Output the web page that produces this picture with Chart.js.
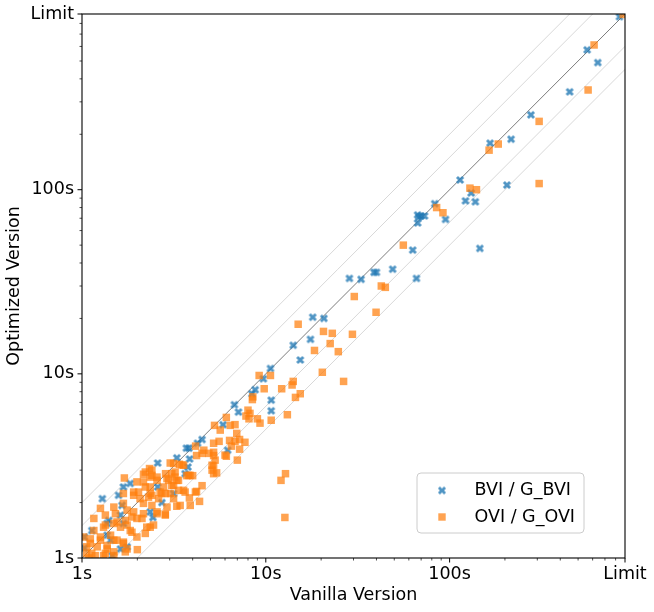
<!DOCTYPE html>
<html>
<head>
    <title>Vanilla vs Optimized Version</title>
    <meta charset="UTF-8">
    <script src="https://cdn.jsdelivr.net/npm/chart.js"></script>
    <style>
        body { margin: 0; background: #ffffff; }
        canvas { display: block; }
    </style>
</head>
<body>
    <canvas id="scatter_chart" width="654" height="612"></canvas>
<script>
    // log axes, seconds; "Limit" is the timeout (900s)
    var tickValues = [1, 10, 100, 900];
    var tickLabels = ['1s', '10s', '100s', 'Limit'];
    var minorTicks = [2, 3, 4, 5, 6, 7, 8, 9, 20, 30, 40, 50, 60, 70, 80, 90, 200, 300, 400, 500, 600, 700, 800];
    var ratioLines = [1, 1.5, 2, 1 / 1.5, 1 / 2]; // y = ratio * x
    var legendLabels = ['BVI / G_BVI', 'OVI / G_OVI'];

    // BVI / G_BVI : vanilla time (x) vs optimized time (y)
    var bviX = [840, 560, 640, 450, 277, 216, 166, 114, 205, 131,
                122, 138, 83, 95, 67, 70, 73, 68, 67, 63,
                146, 28.5, 33, 38.8, 40, 49, 66, 18, 20.7, 17.5,
                14.1, 15.4, 10.6, 9.7, 8.75, 8.4, 10.7, 6.75, 7.1, 10.7,
                5.85, 4.5, 3.7, 3.82, 3.28, 3.85, 3.77, 2.58, 6.2, 2.58,
                4.25, 1.83, 1.68, 1.58, 1.29, 2.72, 2.35, 2.43, 1.4, 1.62,
                1.13, 1.03, 1.37, 1.62, 1.76, 1.43, 1.37, 1.65, 1.68, 1.46,
                3.64, 3.15, 1.03];
    var bviY = [870, 575, 490, 340, 255, 188, 179, 113, 106, 96,
                87, 86, 84, 69, 73, 72, 72, 71, 66, 47,
                48, 33, 32.6, 35.6, 35.6, 37, 33, 20.3, 20, 15.4,
                14.3, 11.9, 10.7, 9.4, 8.2, 7.8, 7.2, 6.8, 6.2, 6.3,
                5.3, 4.4, 3.95, 3.95, 3.5, 3.45, 3.12, 3.28, 3.85, 2.43,
                4.2, 2.54, 2.43, 2.19, 2.1, 2.0, 1.78, 1.66, 1.6, 1.71,
                1.41, 1.3, 1.33, 1.12, 1.15, 1.25, 1.54, 1.93, 1.54, 1.03,
                2.87, 2.24, 1.13];

    // OVI / G_OVI
    var oviX = [880, 611, 567, 307, 184, 164, 129, 140, 307, 85,
                92, 56, 30.3, 42.5, 44.7, 39.8, 15, 20.6, 23, 29.6,
                22.4, 18.4, 24.8, 20.3, 26.5, 9.2, 10.6, 14.1, 13.9, 9.8,
                12.2, 15.4, 14.5, 8.5, 8.45, 13.1, 8.0, 8.2, 7.8, 8.1,
                9.0, 9.3, 6.1, 6.8, 6.4, 5.26, 5.65, 6.95, 10.7, 6.35,
                6.8, 7.2, 7.7, 5.57, 5.2, 6.5, 7.2, 6.1, 7.0, 4.15,
                4.6, 4.2, 4.5, 4.9, 5.2, 5.3, 5.2, 5.4, 5.1, 4.0,
                3.72, 4.5, 4.2, 3.64, 3.84, 12.1, 12.8, 12.7, 3.5, 3.08,
                3.2, 2.96, 3.35, 2.78, 3.15, 2.66, 3.02, 3.35, 3.15, 2.56,
                2.33, 3.02, 3.39, 2.16, 2.4, 2.85, 3.21, 3.8, 4.36, 1.7,
                1.99, 2.21, 1.91, 2.4, 2.07, 2.72, 2.9, 3.28, 2.56, 2.84,
                1.68, 1.49, 1.26, 1.91, 2.12, 1.16, 1.34, 1.55, 1.76, 2.35,
                1.87, 2.21, 1.99, 1.11, 1.26, 1.49, 1.68, 1.06, 1.21, 1.37,
                1.13, 1.31, 1.49, 2.0, 1.72, 1.09, 1.34, 1.52, 1.76, 1.87,
                1.72, 1.99, 2.16, 2.4, 2.56, 2.84, 2.25, 2.45, 1.83, 1.62,
                1.49, 1.31, 1.16, 1.26, 1.43, 1.55, 1.68, 1.11, 1.37, 1.06,
                1.18, 1.34, 1.49, 1.76, 1.02, 2.16, 2.61, 1.91, 1.68, 2.03,
                2.35, 2.84, 5.2, 6.0, 3.15, 3.57, 5.1, 5.2, 3.87, 2.21,
                2.4, 2.35, 2.16, 2.56, 2.9, 3.28, 3.08, 2.35, 3.57, 4.14,
                2.3, 3.42, 3.88];
    var oviY = [895, 611, 348, 235, 177, 164, 102, 100, 108, 80,
                75, 50, 26.3, 30, 29.5, 21.6, 18.6, 17, 16.6, 16.4,
                14.6, 13.4, 13.2, 10.2, 9.1, 9.8, 9.8, 9.1, 8.7, 8.3,
                8.3, 7.8, 7.45, 7.5, 7.25, 6.0, 6.35, 6.1, 5.9, 5.7,
                5.7, 5.4, 5.8, 5.3, 5.25, 5.25, 4.95, 4.75, 5.6, 4.35,
                4.3, 4.4, 4.25, 4.3, 4.2, 4.05, 3.9, 3.57, 3.4, 4.05,
                3.85, 3.6, 3.7, 3.7, 3.75, 3.4, 3.16, 2.9, 3.0, 2.8,
                2.8, 2.47, 2.3, 2.28, 2.12, 2.64, 2.87, 1.66, 3.2, 2.87,
                2.75, 2.64, 2.64, 2.43, 2.48, 2.28, 2.24, 2.33, 2.1, 2.75,
                3.06, 3.28, 3.23, 2.85, 2.81, 2.87, 2.93, 2.81, 2.03, 2.72,
                2.59, 2.43, 2.28, 2.19, 2.1, 2.24, 1.89, 1.91, 1.74, 1.73,
                1.98, 1.89, 1.86, 1.78, 1.64, 1.64, 1.51, 1.57, 1.51, 1.47,
                1.38, 1.36, 1.3, 1.27, 1.25, 1.25, 1.22, 1.15, 1.15, 1.12,
                1.06, 1.03, 1.03, 1.11, 1.08, 1.0, 1.71, 1.74, 1.82, 1.67,
                1.6, 1.64, 1.74, 1.93, 1.78, 1.71, 1.47, 1.51, 1.41, 1.47,
                1.54, 1.47, 1.41, 1.3, 1.33, 1.25, 1.2, 1.2, 1.17, 1.06,
                1.03, 1.06, 1.08, 1.12, 1.3, 1.98, 2.1, 2.19, 2.24, 2.28,
                2.24, 2.24, 3.6, 3.62, 3.26, 3.19, 3.19, 2.87, 2.81, 2.93,
                3.0, 2.75, 2.59, 2.64, 2.7, 2.64, 2.48, 2.43, 2.33, 2.28,
                2.14, 1.93, 1.93];

    var blue = 'rgba(31, 119, 180, 0.78)';
    var orange = 'rgba(255, 127, 14, 0.72)';

    // filled "X" marker like matplotlib's 'X'
    function makeXMarker(size, color) {
        var c = document.createElement('canvas');
        c.width = 10;
        c.height = 10;
        var g = c.getContext('2d');
        var u = size / 6;
        var pts = [[-1, -3], [1, -3], [1, -1], [3, -1], [3, 1], [1, 1], [1, 3], [-1, 3], [-1, 1], [-3, 1], [-3, -1], [-1, -1]];
        g.translate(5, 5);
        g.rotate(Math.PI / 4);
        g.fillStyle = color;
        g.beginPath();
        pts.forEach(function (p, i) {
            if (i === 0) g.moveTo(p[0] * u, p[1] * u);
            else g.lineTo(p[0] * u, p[1] * u);
        });
        g.closePath();
        g.fill();
        return c;
    }
    var xMarker = makeXMarker(8.6, blue);

    function toPoints(xs, ys) {
        return xs.map(function (x, i) { return { x: x, y: ys[i] }; });
    }

    var datasets = [{
        label: legendLabels[1],
        data: toPoints(oviX, oviY),
        pointStyle: 'rect',
        pointRadius: 5.3,
        pointBackgroundColor: orange,
        pointBorderWidth: 0,
        order: 0
    }, {
        label: legendLabels[0],
        data: toPoints(bviX, bviY),
        pointStyle: xMarker,
        pointRadius: 5,
        pointBorderWidth: 0,
        order: 1
    }];

    // reference lines y = r * x
    ratioLines.forEach(function (r) {
        datasets.push({
            label: 'ratio ' + r,
            data: [{ x: 0.5, y: 0.5 * r }, { x: 2000, y: 2000 * r }],
            showLine: true,
            pointRadius: 0,
            borderColor: r === 1 ? 'rgba(110, 110, 110, 0.9)' : '#d8d8d8',
            borderWidth: 1,
            order: 5
        });
    });

    // ticks, frame and legend drawn by hand (matplotlib look)
    var framePlugin = {
        id: 'frame',
        afterDraw: function (chart) {
            var ctx = chart.ctx;
            var a = chart.chartArea;
            var xs = chart.scales.x, ys = chart.scales.y;
            ctx.save();
            ctx.strokeStyle = '#000000';
            ctx.lineWidth = 1.1;
            ctx.strokeRect(a.left, a.top, a.right - a.left, a.bottom - a.top);

            function tickMarks(values, len) {
                values.forEach(function (v) {
                    var px = xs.getPixelForValue(v);
                    var py = ys.getPixelForValue(v);
                    ctx.beginPath();
                    ctx.moveTo(px, a.bottom);
                    ctx.lineTo(px, a.bottom + len);
                    ctx.moveTo(a.left, py);
                    ctx.lineTo(a.left - len, py);
                    ctx.stroke();
                });
            }
            ctx.lineWidth = 1;
            tickMarks(tickValues, 4.5);
            ctx.lineWidth = 0.7;
            tickMarks(minorTicks, 2.5);

            // legend box, lower right
            var bw = 167, bh = 60;
            var bx = a.right - 41 - bw, by = a.bottom - 25 - bh;
            ctx.beginPath();
            ctx.roundRect(bx, by, bw, bh, 4);
            ctx.fillStyle = 'rgba(255, 255, 255, 0.8)';
            ctx.fill();
            ctx.strokeStyle = '#cccccc';
            ctx.lineWidth = 1;
            ctx.stroke();

            ctx.drawImage(xMarker, bx + 25 - 5, by + 17.5 - 5);
            ctx.fillStyle = orange;
            ctx.fillRect(bx + 25 - 3.7, by + 44 - 3.7, 7.4, 7.4);

            ctx.fillStyle = '#000000';
            ctx.font = "17.5px 'DejaVu Sans'";
            ctx.textBaseline = 'middle';
            ctx.textAlign = 'left';
            ctx.fillText(legendLabels[0], bx + 57.5, by + 17.5);
            ctx.fillText(legendLabels[1], bx + 57.5, by + 44);
            ctx.restore();
        }
    };

    Chart.defaults.font.family = "'DejaVu Sans', sans-serif";
    Chart.defaults.font.size = 17.5;
    Chart.defaults.color = '#000000';

    function axis(title, pad, size) {
        return {
            type: 'logarithmic',
            min: 1,
            max: 900,
            grid: { display: false, drawTicks: false },
            border: { display: false },
            ticks: {
                padding: pad,
                autoSkip: false,
                maxRotation: 0,
                callback: function (value) {
                    var i = tickValues.indexOf(value);
                    return i >= 0 ? tickLabels[i] : '';
                }
            },
            afterBuildTicks: function (scale) {
                scale.ticks = tickValues.map(function (v) { return { value: v }; });
            },
            title: {
                display: true,
                text: title,
                font: { size: 17.5 },
                padding: { top: 3.5, bottom: 6 }
            },
            afterFit: function (scale) {
                if (scale.isHorizontal()) scale.height = size;
                else scale.width = size;
                scale.paddingTop = 0;
                scale.paddingBottom = 0;
                scale.paddingLeft = 0;
                scale.paddingRight = 0;
            }
        };
    }

    var ctx = document.getElementById('scatter_chart').getContext('2d');
    var chart = new Chart(ctx, {
        type: 'scatter',
        data: { datasets: datasets },
        options: {
            responsive: false,
            animation: false,
            layout: { padding: { left: 0, right: 29, top: 14, bottom: 0 } },
            scales: {
                x: axis('Vanilla Version', 6, 54),
                y: axis('Optimized Version', 8, 82)
            },
            plugins: {
                legend: { display: false },
                tooltip: { enabled: false }
            }
        },
        plugins: [framePlugin]
    });
</script>
</body>
</html>
